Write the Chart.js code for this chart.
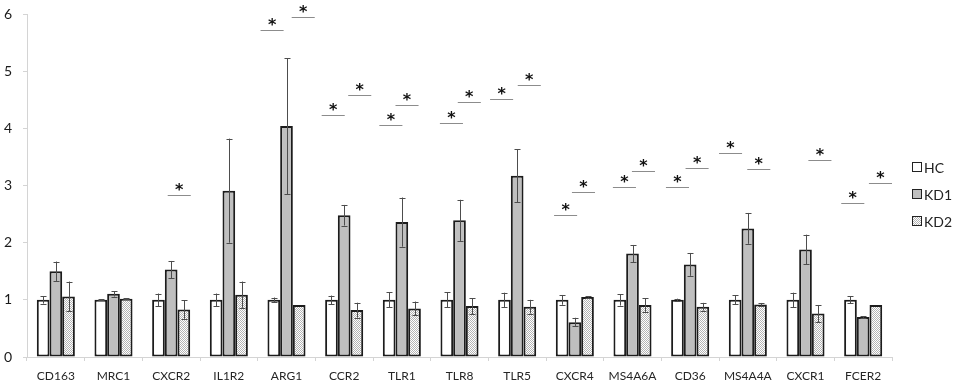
<!DOCTYPE html>
<html>
<head>
<meta charset="utf-8">
<script src="https://cdn.jsdelivr.net/npm/chart.js@4.4.1/dist/chart.umd.min.js"></script>
<style>
  html, body { margin: 0; padding: 0; background: #ffffff; }
  #wrap { width: 957px; height: 384px; position: relative; }
</style>
</head>
<body>
<div id="wrap"><canvas id="c"></canvas></div>
<script>
// ---- data ----
const categories = ['CD163', 'MRC1', 'CXCR2', 'IL1R2', 'ARG1', 'CCR2', 'TLR1', 'TLR8', 'TLR5', 'CXCR4', 'MS4A6A', 'CD36', 'MS4A4A', 'CXCR1', 'FCER2'];
const seriesNames = ['HC', 'KD1', 'KD2'];
const hcValues  = [1, 1, 1, 1, 1, 1, 1, 1, 1, 1, 1, 1, 1, 1, 1];
const hcErrors  = [0.065, 0.01, 0.11, 0.11, 0.04, 0.075, 0.13, 0.13, 0.125, 0.085, 0.10, 0.02, 0.08, 0.125, 0.06];
const kd1Values = [1.50, 1.105, 1.53, 2.91, 4.04, 2.48, 2.36, 2.39, 3.17, 0.61, 1.81, 1.62, 2.25, 1.88, 0.70];
const kd1Errors = [0.17, 0.047, 0.15, 0.91, 1.19, 0.18, 0.43, 0.36, 0.46, 0.076, 0.15, 0.20, 0.27, 0.26, 0.015];
const kd2Values = [1.06, 1.02, 0.83, 1.09, 0.91, 0.82, 0.85, 0.89, 0.88, 1.05, 0.91, 0.88, 0.92, 0.76, 0.91];
const kd2Errors = [0.26, 0.01, 0.16, 0.23, 0, 0.13, 0.12, 0.14, 0.12, 0.01, 0.12, 0.067, 0.025, 0.15, 0];
const yTicks = [0, 1, 2, 3, 4, 5, 6];

// significance marks: category, height (y value), horizontal offset within the category
const sigCategory = [2, 4, 4, 5, 5, 6, 6, 7, 7, 8, 8, 9, 9, 10, 10, 11, 11, 12, 12, 13, 14, 14];
const sigValue    = [2.83, 5.72, 5.94, 4.24, 4.58, 4.05, 4.41, 4.09, 4.46, 4.51, 4.76, 2.49, 2.88, 2.97, 3.26, 2.97, 3.30, 3.57, 3.29, 3.45, 2.70, 3.04];
const sigOffset   = [0.14, -0.25, 0.29, -0.19, 0.27, -0.19, 0.09, -0.14, 0.17, -0.27, 0.21, -0.16, 0.15, -0.14, 0.19, -0.22, 0.12, -0.30, 0.19, 0.25, -0.18, 0.30];

// ---- styles ----
function makeDotPattern() {
  const p = document.createElement('canvas');
  p.width = 2; p.height = 2;
  const g = p.getContext('2d');
  g.fillStyle = '#ffffff'; g.fillRect(0, 0, 2, 2);
  g.fillStyle = '#b4b4b4';
  g.fillRect(0, 0, 1, 1);
  g.fillRect(1, 1, 1, 1);
  return g.createPattern(p, 'repeat');
}
const dotPattern = makeDotPattern();
const errorSets = [hcErrors, kd1Errors, kd2Errors];

const errorBarPlugin = {
  id: 'errorBars',
  afterDatasetsDraw(chart) {
    const ctx = chart.ctx;
    const y = chart.scales.y;
    ctx.save();
    ctx.strokeStyle = '#4d4d4d';
    ctx.lineWidth = 1;
    chart.data.datasets.forEach((ds, di) => {
      const meta = chart.getDatasetMeta(di);
      meta.data.forEach((bar, i) => {
        const e = errorSets[di][i];
        if (!e) return;
        const v = ds.data[i];
        const x = Math.round(bar.x) + 0.5;
        const yTop = y.getPixelForValue(v + e);
        const yBot = y.getPixelForValue(v - e);
        ctx.beginPath();
        ctx.moveTo(x, yTop); ctx.lineTo(x, yBot);
        ctx.moveTo(x - 3, Math.round(yTop) + 0.5); ctx.lineTo(x + 3, Math.round(yTop) + 0.5);
        ctx.moveTo(x - 3, Math.round(yBot) + 0.5); ctx.lineTo(x + 3, Math.round(yBot) + 0.5);
        ctx.stroke();
      });
    });
    ctx.restore();
  }
};

const sigPlugin = {
  id: 'sigMarks',
  afterDatasetsDraw(chart) {
    const ctx = chart.ctx;
    const xs = chart.scales.x, ys = chart.scales.y;
    const cw = xs.width / categories.length;
    ctx.save();
    ctx.font = 'bold 16px "DejaVu Sans"';
    ctx.textAlign = 'center';
    ctx.textBaseline = 'alphabetic';
    const m = ctx.measureText('*');
    const midShift = (m.actualBoundingBoxAscent - m.actualBoundingBoxDescent) / 2;
    sigCategory.forEach((c, k) => {
      const cx = xs.getPixelForValue(c) + sigOffset[k] * cw;
      const yy = Math.round(ys.getPixelForValue(sigValue[k])) + 0.5;
      const half = 0.2 * cw;
      ctx.strokeStyle = '#8c8c8c';
      ctx.lineWidth = 1;
      ctx.beginPath();
      ctx.moveTo(cx - half, yy); ctx.lineTo(cx + half, yy);
      ctx.stroke();
      ctx.fillStyle = '#111111';
      ctx.fillText('*', cx, yy - 9 + midShift);
    });
    ctx.restore();
  }
};

const legendPlugin = {
  id: 'sideLegend',
  afterDraw(chart) {
    const ctx = chart.ctx;
    const ca = chart.chartArea;
    ctx.save();
    ctx.font = '14px Lato';
    ctx.textBaseline = 'middle';
    ctx.textAlign = 'left';
    chart.data.datasets.forEach((ds, i) => {
      const cy = 167 + i * 27;
      const bx = ca.right + 20.5;
      ctx.fillStyle = ds.backgroundColor;
      ctx.fillRect(bx, cy - 4.5, 9, 9);
      ctx.strokeStyle = '#222222';
      ctx.lineWidth = 1;
      ctx.strokeRect(bx, cy - 4.5, 9, 9);
      ctx.fillStyle = '#222222';
      ctx.fillText(ds.label, ca.right + 32, cy + 1);
    });
    ctx.restore();
  }
};

const axisGray = '#d4d4d4';
new Chart(document.getElementById('c'), {
  type: 'bar',
  data: {
    labels: categories,
    datasets: [
      { label: seriesNames[0], data: hcValues, backgroundColor: '#ffffff' },
      { label: seriesNames[1], data: kd1Values, backgroundColor: '#bfbfbf' },
      { label: seriesNames[2], data: kd2Values, backgroundColor: dotPattern }
    ].map(d => Object.assign(d, {
      borderColor: '#1c1c1c',
      borderWidth: 2,
      borderSkipped: false,
      categoryPercentage: 0.66,
      barPercentage: 1.0
    }))
  },
  options: {
    responsive: true,
    maintainAspectRatio: false,
    animation: false,
    layout: { padding: { left: 4, right: 65, top: 14, bottom: 0 } },
    plugins: {
      legend: { display: false },
      tooltip: { enabled: false }
    },
    scales: {
      x: {
        afterFit(axis) { axis.height = 27; axis.paddingLeft = 0; axis.paddingRight = 0; },
        grid: { display: true, drawOnChartArea: false, drawTicks: true, tickLength: 4, color: axisGray, offset: true },
        border: { display: true, color: axisGray, width: 1 },
        ticks: { color: '#262626', font: { family: 'Lato', size: 12 }, padding: 8, maxRotation: 0, autoSkip: false }
      },
      y: {
        min: 0, max: 6,
        afterBuildTicks(axis) { axis.ticks = yTicks.map(v => ({ value: v })); },
        afterFit(axis) { axis.width = 23; axis.paddingTop = 0; axis.paddingBottom = 0; },
        grid: { display: true, drawOnChartArea: false, drawTicks: true, tickLength: 4, color: axisGray },
        border: { display: true, color: axisGray, width: 1 },
        ticks: { color: '#1a1a1a', font: { family: 'Lato', size: 14 }, padding: 11 }
      }
    }
  },
  plugins: [errorBarPlugin, sigPlugin, legendPlugin]
});
</script>
</body>
</html>
